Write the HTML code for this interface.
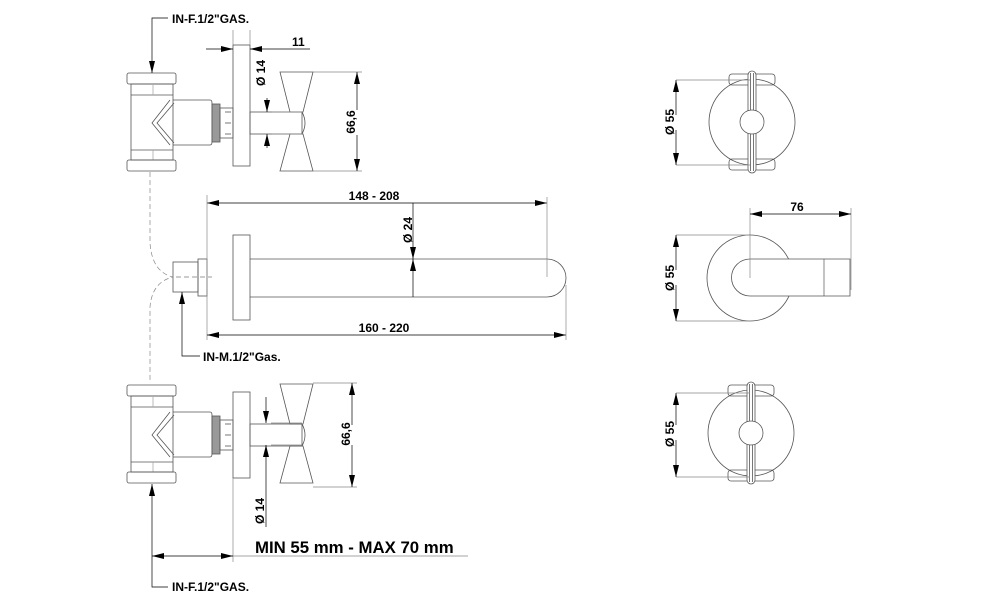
<!DOCTYPE html>
<html><head><meta charset="utf-8"><style>
html,body{margin:0;padding:0;background:#fff}
svg{display:block}
text{font-family:"Liberation Sans",Arial,sans-serif;font-weight:bold;fill:#000}
</style></head><body>
<svg width="993" height="602" viewBox="0 0 993 602" xmlns="http://www.w3.org/2000/svg">
<defs>
<marker id="a" viewBox="0 0 12 6" refX="12" refY="3" markerWidth="12" markerHeight="6" markerUnits="userSpaceOnUse" orient="auto-start-reverse"><path d="M0,0 L12,3 L0,6 Z" fill="#000"/></marker>
<g id="valve" fill="none" stroke="#555" stroke-width="0.8">
<rect x="127" y="73" width="49" height="11" rx="2"/>
<rect x="131" y="84" width="42" height="76"/>
<line x1="131" y1="95" x2="173" y2="95"/>
<line x1="131" y1="150" x2="173" y2="150"/>
<line x1="153" y1="84" x2="153" y2="95" stroke="#aaa"/>
<line x1="153" y1="150" x2="153" y2="160" stroke="#aaa"/>
<rect x="127" y="160" width="49" height="11" rx="2"/>
<path d="M173,100 L210,100 Q212,100 212,103 L212,142 Q212,145 210,145 L173,145"/>
<path d="M170,100 L152,123 L170,145 M174,103 L157,123 L174,143"/>
<rect x="212" y="104" width="8" height="38" fill="#999"/>
<rect x="220" y="108" width="13" height="30"/>
<line x1="225" y1="112" x2="231" y2="112"/><line x1="225" y1="123" x2="231" y2="123"/><line x1="225" y1="134" x2="231" y2="134"/>
<rect x="250" y="112" width="52" height="22"/>
<path d="M302,112 Q308,123 302,134"/>
<path d="M280,72 L313,72 L303,112 L290,112 Z"/>
<path d="M290,134 L303,134 L313,171 L280,171 Z"/>
</g>
<g id="topv" fill="none" stroke="#555" stroke-width="0.8">
<circle cx="0" cy="0" r="43"/>
<rect x="-23" y="-48" width="46" height="11" rx="3"/>
<rect x="-23" y="37" width="46" height="11" rx="3"/>
<rect x="-4" y="-51" width="8" height="102" rx="4" fill="#fff"/>
<line x1="-1.5" y1="-49" x2="-1.5" y2="49"/><line x1="1.5" y1="-49" x2="1.5" y2="49"/>
<circle cx="0" cy="0" r="12" fill="#fff"/>
</g>
</defs>
<g stroke="#000" stroke-width="0.7" fill="none">
<use href="#valve"/>
<rect x="233" y="45" width="17" height="121" stroke="#555" stroke-width="0.8"/>
<use href="#valve" transform="translate(0,312)"/>
<rect x="233" y="392" width="17" height="86" stroke="#555" stroke-width="0.8"/>

<polyline points="168,18 152,18 152,73" marker-end="url(#a)"/>
<line x1="206" y1="49" x2="233" y2="49" marker-end="url(#a)"/>
<line x1="310" y1="49" x2="250" y2="49" marker-end="url(#a)"/>
<line x1="233" y1="45" x2="233" y2="30" stroke="#888"/>
<line x1="250" y1="45" x2="250" y2="30" stroke="#888"/>
<line x1="267" y1="98" x2="267" y2="112" marker-end="url(#a)"/>
<line x1="267" y1="148" x2="267" y2="134" marker-end="url(#a)"/>
<line x1="302" y1="112" x2="272" y2="112" stroke="#888"/>
<line x1="302" y1="134" x2="272" y2="134" stroke="#888"/>
<line x1="313" y1="72" x2="362" y2="72" stroke="#888"/>
<line x1="313" y1="171" x2="362" y2="171" stroke="#888"/>
<line x1="357" y1="110" x2="357" y2="72" marker-end="url(#a)"/>
<line x1="357" y1="135" x2="357" y2="171" marker-end="url(#a)"/>

<rect x="233" y="235" width="17" height="85" stroke="#555" stroke-width="0.8"/>
<path d="M250,259 L547,259 A19,19 0 0 1 547,297 L250,297" stroke="#555" stroke-width="0.8"/>
<rect x="198" y="259" width="9" height="37" stroke="#555" stroke-width="0.8"/>
<rect x="173" y="262" width="25" height="30" stroke="#555" stroke-width="0.8"/>
<line x1="176" y1="277" x2="212" y2="277" stroke="#777" stroke-dasharray="5,3"/>
<path d="M150,172 L150,243 Q152,272 173,277 Q152,282 150,307 L150,383" stroke="#888" stroke-dasharray="5,3"/>
<line x1="207" y1="203" x2="547" y2="203" marker-start="url(#a)" marker-end="url(#a)"/>
<line x1="207" y1="195" x2="207" y2="340" stroke="#888"/>
<line x1="547" y1="197" x2="547" y2="277" stroke="#888"/>
<line x1="207" y1="335" x2="566" y2="335" marker-start="url(#a)" marker-end="url(#a)"/>
<line x1="566" y1="285" x2="566" y2="340" stroke="#888"/>
<line x1="413" y1="203" x2="413" y2="259" marker-end="url(#a)"/>
<line x1="413" y1="297" x2="413" y2="259" marker-end="url(#a)"/>
<polyline points="200,356 182,356 182,292" marker-end="url(#a)"/>

<line x1="313" y1="383" x2="357" y2="383" stroke="#888"/>
<line x1="313" y1="487" x2="357" y2="487" stroke="#888"/>
<line x1="352" y1="425" x2="352" y2="383" marker-end="url(#a)"/>
<line x1="352" y1="445" x2="352" y2="487" marker-end="url(#a)"/>
<line x1="266" y1="397" x2="266" y2="423" marker-end="url(#a)"/>
<line x1="266" y1="527" x2="266" y2="445" marker-end="url(#a)"/>
<line x1="302" y1="423" x2="271" y2="423" stroke="#888"/>
<line x1="302" y1="445" x2="271" y2="445" stroke="#888"/>
<line x1="233" y1="478" x2="233" y2="562" stroke="#888"/>
<line x1="152" y1="556" x2="233" y2="556" marker-start="url(#a)" marker-end="url(#a)"/>
<line x1="233" y1="556" x2="468" y2="556" stroke="#888"/>
<polyline points="168,587 152,587 152,484" marker-end="url(#a)"/>

<use href="#topv" transform="translate(752,122)"/>
<use href="#topv" transform="translate(751,433)"/>
<line x1="676" y1="80" x2="750" y2="80" stroke="#888"/>
<line x1="676" y1="165" x2="750" y2="165" stroke="#888"/>
<line x1="676" y1="115" x2="676" y2="80" marker-end="url(#a)"/>
<line x1="676" y1="130" x2="676" y2="165" marker-end="url(#a)"/>
<line x1="676" y1="393" x2="750" y2="393" stroke="#888"/>
<line x1="676" y1="477" x2="750" y2="477" stroke="#888"/>
<line x1="676" y1="425" x2="676" y2="393" marker-end="url(#a)"/>
<line x1="676" y1="440" x2="676" y2="477" marker-end="url(#a)"/>
<circle cx="750" cy="278" r="43" stroke="#555" stroke-width="0.8"/>
<path d="M850,259 L750,259 A18.5,18.5 0 0 0 750,296 L850,296 Z" fill="#fff" stroke="#555" stroke-width="0.8"/>
<line x1="824" y1="259" x2="824" y2="296" stroke="#555"/>
<line x1="676" y1="235" x2="750" y2="235" stroke="#888"/>
<line x1="676" y1="321" x2="750" y2="321" stroke="#888"/>
<line x1="676" y1="270" x2="676" y2="235" marker-end="url(#a)"/>
<line x1="676" y1="285" x2="676" y2="321" marker-end="url(#a)"/>
<line x1="750" y1="208" x2="750" y2="278" stroke="#888"/>
<line x1="851" y1="208" x2="851" y2="290" stroke="#888"/>
<line x1="750" y1="214" x2="851" y2="214" marker-start="url(#a)" marker-end="url(#a)"/>
</g>

<g font-size="12">
<text x="172" y="23">IN-F.1/2"GAS.</text>
<text x="292" y="46">11</text>
<text transform="translate(265,73) rotate(-90)" text-anchor="middle">Ø 14</text>
<text transform="translate(355,122) rotate(-90)" text-anchor="middle">66,6</text>
<text x="374" y="200" text-anchor="middle">148 - 208</text>
<text transform="translate(412,230) rotate(-90)" text-anchor="middle">Ø 24</text>
<text x="384" y="332" text-anchor="middle">160 - 220</text>
<text x="203" y="361">IN-M.1/2"Gas.</text>
<text transform="translate(350,434) rotate(-90)" text-anchor="middle">66,6</text>
<text transform="translate(264,511) rotate(-90)" text-anchor="middle">Ø 14</text>
<text x="172" y="591">IN-F.1/2"GAS.</text>
<text transform="translate(674,122) rotate(-90)" text-anchor="middle">Ø 55</text>
<text transform="translate(674,278) rotate(-90)" text-anchor="middle">Ø 55</text>
<text transform="translate(674,434) rotate(-90)" text-anchor="middle">Ø 55</text>
<text x="797" y="211" text-anchor="middle">76</text>
</g>
<text x="255" y="553" font-size="16.8">MIN 55 mm - MAX 70 mm</text>
</svg>
</body></html>
